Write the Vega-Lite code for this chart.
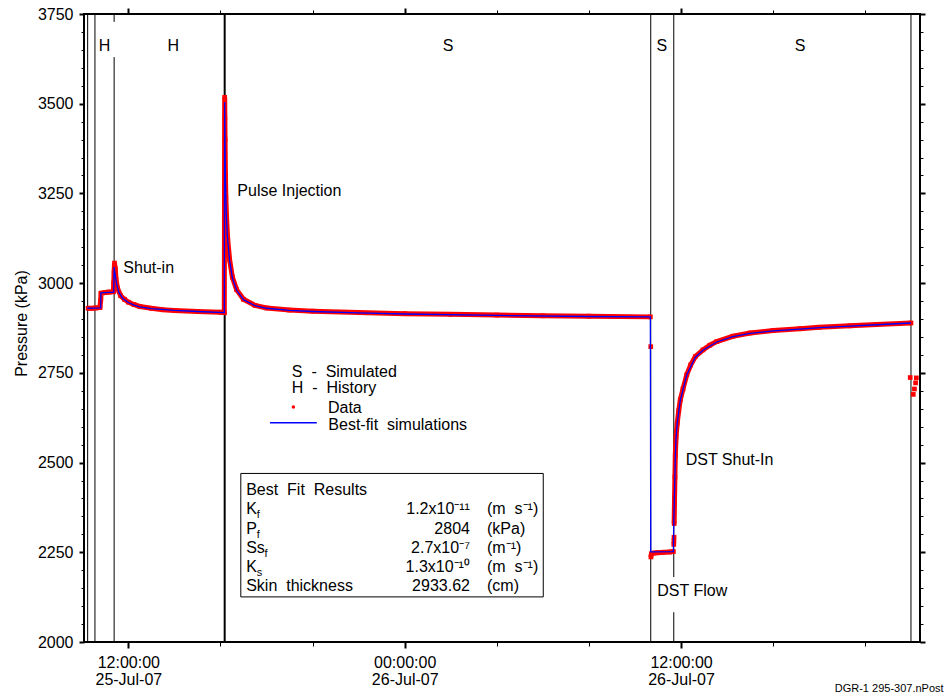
{
  "$schema": "https://vega.github.io/schema/vega-lite/v6.json",
  "width": 836,
  "height": 628,
  "autosize": {"type": "none"},
  "padding": {"left": 84, "top": 14, "right": 26, "bottom": 54},
  "config": {
    "font": "Liberation Sans",
    "view": {"stroke": "#000000", "strokeWidth": 2},
    "axis": {
      "grid": false,
      "domain": false,
      "tickColor": "#000000",
      "labelColor": "#000000",
      "labelFont": "Liberation Sans",
      "labelFontSize": 16,
      "titleFont": "Liberation Sans",
      "titleFontSize": 16,
      "titleFontWeight": "normal",
      "titleColor": "#000000"
    },
    "text": {"font": "Liberation Sans", "fontSize": 16, "color": "#000000"}
  },
  "datasets": {
    "pressure": [
      {"t": "2007-07-25T10:15:00Z", "p": 2930, "part": "a"},
      {"t": "2007-07-25T10:25:00Z", "p": 2930, "part": "a"},
      {"t": "2007-07-25T10:35:00Z", "p": 2931, "part": "a"},
      {"t": "2007-07-25T10:46:00Z", "p": 2932, "part": "a"},
      {"t": "2007-07-25T10:48:00Z", "p": 2952, "part": "a"},
      {"t": "2007-07-25T10:49:00Z", "p": 2972, "part": "a"},
      {"t": "2007-07-25T11:00:00Z", "p": 2974, "part": "a"},
      {"t": "2007-07-25T11:10:00Z", "p": 2975, "part": "a"},
      {"t": "2007-07-25T11:21:00Z", "p": 2976, "part": "a"},
      {"t": "2007-07-25T11:22:00Z", "p": 3000, "part": "a"},
      {"t": "2007-07-25T11:23:00Z", "p": 3030, "part": "a"},
      {"t": "2007-07-25T11:24:00Z", "p": 3056, "part": "a"},
      {"t": "2007-07-25T11:26:00Z", "p": 3040, "part": "a"},
      {"t": "2007-07-25T11:28:00Z", "p": 3010, "part": "a"},
      {"t": "2007-07-25T11:32:00Z", "p": 2985, "part": "a"},
      {"t": "2007-07-25T11:40:00Z", "p": 2965, "part": "a"},
      {"t": "2007-07-25T11:50:00Z", "p": 2955, "part": "a"},
      {"t": "2007-07-25T12:00:00Z", "p": 2947, "part": "a"},
      {"t": "2007-07-25T12:15:00Z", "p": 2940, "part": "a"},
      {"t": "2007-07-25T12:30:00Z", "p": 2935, "part": "a"},
      {"t": "2007-07-25T13:00:00Z", "p": 2930, "part": "a"},
      {"t": "2007-07-25T13:30:00Z", "p": 2926, "part": "a"},
      {"t": "2007-07-25T14:00:00Z", "p": 2924, "part": "a"},
      {"t": "2007-07-25T15:00:00Z", "p": 2921, "part": "a"},
      {"t": "2007-07-25T16:00:00Z", "p": 2919, "part": "a"},
      {"t": "2007-07-25T16:10:00Z", "p": 2918, "part": "a"},
      {"t": "2007-07-25T16:10:30Z", "p": 3200, "part": "a"},
      {"t": "2007-07-25T16:11:00Z", "p": 3518, "part": "a"},
      {"t": "2007-07-25T16:11:30Z", "p": 3460, "part": "a"},
      {"t": "2007-07-25T16:12:00Z", "p": 3400, "part": "a"},
      {"t": "2007-07-25T16:13:00Z", "p": 3300, "part": "a"},
      {"t": "2007-07-25T16:14:00Z", "p": 3240, "part": "a"},
      {"t": "2007-07-25T16:16:00Z", "p": 3180, "part": "a"},
      {"t": "2007-07-25T16:19:00Z", "p": 3120, "part": "a"},
      {"t": "2007-07-25T16:24:00Z", "p": 3065, "part": "a"},
      {"t": "2007-07-25T16:31:00Z", "p": 3017, "part": "a"},
      {"t": "2007-07-25T16:42:00Z", "p": 2982, "part": "a"},
      {"t": "2007-07-25T17:00:00Z", "p": 2955, "part": "a"},
      {"t": "2007-07-25T17:30:00Z", "p": 2938, "part": "a"},
      {"t": "2007-07-25T18:00:00Z", "p": 2931, "part": "a"},
      {"t": "2007-07-25T19:00:00Z", "p": 2925, "part": "a"},
      {"t": "2007-07-25T20:00:00Z", "p": 2922, "part": "a"},
      {"t": "2007-07-25T22:00:00Z", "p": 2918, "part": "a"},
      {"t": "2007-07-26T00:00:00Z", "p": 2915, "part": "a"},
      {"t": "2007-07-26T02:00:00Z", "p": 2913, "part": "a"},
      {"t": "2007-07-26T04:00:00Z", "p": 2911, "part": "a"},
      {"t": "2007-07-26T06:00:00Z", "p": 2909, "part": "a"},
      {"t": "2007-07-26T08:00:00Z", "p": 2908, "part": "a"},
      {"t": "2007-07-26T10:40:00Z", "p": 2906, "part": "a"},
      {"t": "2007-07-26T10:41:00Z", "p": 2823, "part": "single"},
      {"t": "2007-07-26T10:41:30Z", "p": 2237, "part": "b"},
      {"t": "2007-07-26T10:43:00Z", "p": 2246, "part": "b"},
      {"t": "2007-07-26T10:50:00Z", "p": 2248, "part": "b"},
      {"t": "2007-07-26T11:00:00Z", "p": 2249, "part": "b"},
      {"t": "2007-07-26T11:15:00Z", "p": 2250, "part": "b"},
      {"t": "2007-07-26T11:30:00Z", "p": 2251, "part": "b"},
      {"t": "2007-07-26T11:40:00Z", "p": 2252, "part": "b"},
      {"t": "2007-07-26T11:41:00Z", "p": 2272, "part": "single"},
      {"t": "2007-07-26T11:41:20Z", "p": 2282, "part": "single"},
      {"t": "2007-07-26T11:41:40Z", "p": 2292, "part": "single"},
      {"t": "2007-07-26T11:42:00Z", "p": 2330, "part": "c"},
      {"t": "2007-07-26T11:43:00Z", "p": 2400, "part": "c"},
      {"t": "2007-07-26T11:44:00Z", "p": 2460, "part": "c"},
      {"t": "2007-07-26T11:45:00Z", "p": 2520, "part": "c"},
      {"t": "2007-07-26T11:47:00Z", "p": 2572, "part": "c"},
      {"t": "2007-07-26T11:50:00Z", "p": 2610, "part": "c"},
      {"t": "2007-07-26T11:54:00Z", "p": 2645, "part": "c"},
      {"t": "2007-07-26T11:58:00Z", "p": 2675, "part": "c"},
      {"t": "2007-07-26T12:05:00Z", "p": 2705, "part": "c"},
      {"t": "2007-07-26T12:15:00Z", "p": 2745, "part": "c"},
      {"t": "2007-07-26T12:25:00Z", "p": 2772, "part": "c"},
      {"t": "2007-07-26T12:37:00Z", "p": 2795, "part": "c"},
      {"t": "2007-07-26T12:57:00Z", "p": 2814, "part": "c"},
      {"t": "2007-07-26T13:15:00Z", "p": 2827, "part": "c"},
      {"t": "2007-07-26T13:33:00Z", "p": 2837, "part": "c"},
      {"t": "2007-07-26T14:15:00Z", "p": 2852, "part": "c"},
      {"t": "2007-07-26T15:00:00Z", "p": 2861, "part": "c"},
      {"t": "2007-07-26T16:00:00Z", "p": 2868, "part": "c"},
      {"t": "2007-07-26T17:10:00Z", "p": 2873, "part": "c"},
      {"t": "2007-07-26T18:00:00Z", "p": 2877, "part": "c"},
      {"t": "2007-07-26T19:20:00Z", "p": 2881, "part": "c"},
      {"t": "2007-07-26T20:30:00Z", "p": 2885, "part": "c"},
      {"t": "2007-07-26T21:59:00Z", "p": 2889, "part": "c"},
      {"t": "2007-07-26T21:57:00Z", "p": 2737, "part": "single"},
      {"t": "2007-07-26T22:13:00Z", "p": 2736, "part": "single"},
      {"t": "2007-07-26T22:11:00Z", "p": 2722, "part": "single"},
      {"t": "2007-07-26T22:08:00Z", "p": 2705, "part": "single"},
      {"t": "2007-07-26T22:05:00Z", "p": 2690, "part": "single"}
    ],
    "simulation": [
      {"t": "2007-07-25T10:13:00Z", "p": 2930},
      {"t": "2007-07-25T10:48:00Z", "p": 2931},
      {"t": "2007-07-25T10:48:30Z", "p": 2973},
      {"t": "2007-07-25T11:22:00Z", "p": 2975},
      {"t": "2007-07-25T11:23:00Z", "p": 3045},
      {"t": "2007-07-25T11:26:00Z", "p": 3020},
      {"t": "2007-07-25T11:30:00Z", "p": 2995},
      {"t": "2007-07-25T11:35:00Z", "p": 2975},
      {"t": "2007-07-25T11:45:00Z", "p": 2958},
      {"t": "2007-07-25T12:00:00Z", "p": 2946},
      {"t": "2007-07-25T12:15:00Z", "p": 2939},
      {"t": "2007-07-25T12:30:00Z", "p": 2934},
      {"t": "2007-07-25T13:00:00Z", "p": 2929},
      {"t": "2007-07-25T14:00:00Z", "p": 2924},
      {"t": "2007-07-25T15:00:00Z", "p": 2921},
      {"t": "2007-07-25T16:10:00Z", "p": 2918},
      {"t": "2007-07-25T16:11:00Z", "p": 3505},
      {"t": "2007-07-25T16:12:00Z", "p": 3380},
      {"t": "2007-07-25T16:13:00Z", "p": 3290},
      {"t": "2007-07-25T16:15:00Z", "p": 3200},
      {"t": "2007-07-25T16:18:00Z", "p": 3130},
      {"t": "2007-07-25T16:24:00Z", "p": 3062},
      {"t": "2007-07-25T16:31:00Z", "p": 3015},
      {"t": "2007-07-25T16:42:00Z", "p": 2980},
      {"t": "2007-07-25T17:00:00Z", "p": 2954},
      {"t": "2007-07-25T17:30:00Z", "p": 2937},
      {"t": "2007-07-25T18:00:00Z", "p": 2930},
      {"t": "2007-07-25T19:00:00Z", "p": 2924},
      {"t": "2007-07-25T20:00:00Z", "p": 2921},
      {"t": "2007-07-25T22:00:00Z", "p": 2917},
      {"t": "2007-07-26T00:00:00Z", "p": 2914},
      {"t": "2007-07-26T04:00:00Z", "p": 2910},
      {"t": "2007-07-26T08:00:00Z", "p": 2907},
      {"t": "2007-07-26T10:40:00Z", "p": 2906},
      {"t": "2007-07-26T10:41:00Z", "p": 2251},
      {"t": "2007-07-26T11:40:00Z", "p": 2252},
      {"t": "2007-07-26T11:41:00Z", "p": 2330},
      {"t": "2007-07-26T11:43:00Z", "p": 2420},
      {"t": "2007-07-26T11:45:00Z", "p": 2515},
      {"t": "2007-07-26T11:47:00Z", "p": 2570},
      {"t": "2007-07-26T11:50:00Z", "p": 2610},
      {"t": "2007-07-26T11:58:00Z", "p": 2673},
      {"t": "2007-07-26T12:15:00Z", "p": 2745},
      {"t": "2007-07-26T12:37:00Z", "p": 2793},
      {"t": "2007-07-26T12:57:00Z", "p": 2813},
      {"t": "2007-07-26T13:33:00Z", "p": 2836},
      {"t": "2007-07-26T14:15:00Z", "p": 2851},
      {"t": "2007-07-26T15:00:00Z", "p": 2860},
      {"t": "2007-07-26T16:00:00Z", "p": 2867},
      {"t": "2007-07-26T17:10:00Z", "p": 2872},
      {"t": "2007-07-26T18:00:00Z", "p": 2876},
      {"t": "2007-07-26T19:20:00Z", "p": 2880},
      {"t": "2007-07-26T20:30:00Z", "p": 2884},
      {"t": "2007-07-26T21:59:00Z", "p": 2889}
    ],
    "boundaries": [
      {"t": "2007-07-25T10:14:00Z", "p0": 2000, "p1": 3750, "kind": "period"},
      {"t": "2007-07-25T10:33:00Z", "p0": 2000, "p1": 3750, "kind": "period"},
      {"t": "2007-07-25T11:23:00Z", "p0": 3728, "p1": 3750, "kind": "period"},
      {"t": "2007-07-25T11:23:00Z", "p0": 2000, "p1": 3630, "kind": "period"},
      {"t": "2007-07-25T16:11:00Z", "p0": 2000, "p1": 3750, "kind": "pulse"},
      {"t": "2007-07-26T10:41:00Z", "p0": 2000, "p1": 3750, "kind": "period"},
      {"t": "2007-07-26T11:41:00Z", "p0": 2181, "p1": 3750, "kind": "period"},
      {"t": "2007-07-26T11:41:00Z", "p0": 2000, "p1": 2083, "kind": "period"},
      {"t": "2007-07-26T21:59:00Z", "p0": 2000, "p1": 3750, "kind": "period"}
    ],
    "phases": [
      {"t": "2007-07-25T10:58:00Z", "p": 3647, "text": "H"},
      {"t": "2007-07-25T13:57:00Z", "p": 3647, "text": "H"},
      {"t": "2007-07-26T01:53:00Z", "p": 3647, "text": "S"},
      {"t": "2007-07-26T11:10:00Z", "p": 3647, "text": "S"},
      {"t": "2007-07-26T17:10:00Z", "p": 3647, "text": "S"}
    ],
    "events": [
      {"t": "2007-07-25T11:47:00Z", "p": 3028, "text": "Shut-in"},
      {"t": "2007-07-25T16:44:00Z", "p": 3243, "text": "Pulse Injection"},
      {"t": "2007-07-26T12:12:00Z", "p": 2493, "text": "DST Shut-In"},
      {"t": "2007-07-26T10:58:00Z", "p": 2128, "text": "DST Flow"}
    ],
    "key_text": [
      {"t": "2007-07-25T19:06:00Z", "p": 2739, "text": "S\u00a0 -\u00a0 Simulated"},
      {"t": "2007-07-25T19:06:00Z", "p": 2693, "text": "H\u00a0 -\u00a0 History"},
      {"t": "2007-07-25T20:40:00Z", "p": 2638, "text": "Data"},
      {"t": "2007-07-25T20:41:00Z", "p": 2592, "text": "Best-fit\u00a0 simulations"}
    ],
    "key_dot": [
      {"t": "2007-07-25T19:10:00Z", "p": 2655}
    ],
    "key_line": [
      {"t": "2007-07-25T18:09:00Z", "p": 2611},
      {"t": "2007-07-25T20:11:00Z", "p": 2611}
    ],
    "fit_box": [
      {"t0": "2007-07-25T16:53:00Z", "t1": "2007-07-26T06:01:00Z", "p0": 2125.7, "p1": 2469.7}
    ],
    "fit_names": [
      {"t": "2007-07-25T17:07:00Z", "p": 2409, "text": "Best\u00a0 Fit\u00a0 Results"},
      {"t": "2007-07-25T17:07:00Z", "p": 2356, "text": "K"},
      {"t": "2007-07-25T17:07:00Z", "p": 2302, "text": "P"},
      {"t": "2007-07-25T17:07:00Z", "p": 2249, "text": "Ss"},
      {"t": "2007-07-25T17:07:00Z", "p": 2195, "text": "K"},
      {"t": "2007-07-25T17:07:00Z", "p": 2142, "text": "Skin\u00a0 thickness"}
    ],
    "fit_subscripts": [
      {"t": "2007-07-25T17:34:30Z", "p": 2356, "text": "f"},
      {"t": "2007-07-25T17:34:30Z", "p": 2302, "text": "f"},
      {"t": "2007-07-25T17:55:00Z", "p": 2249, "text": "f"},
      {"t": "2007-07-25T17:34:30Z", "p": 2195, "text": "s"}
    ],
    "fit_values": [
      {"t": "2007-07-26T02:50:00Z", "p": 2356, "text": "1.2x10\u207b\u00b9\u00b9"},
      {"t": "2007-07-26T02:50:00Z", "p": 2302, "text": "2804"},
      {"t": "2007-07-26T02:50:00Z", "p": 2249, "text": "2.7x10\u207b\u2077"},
      {"t": "2007-07-26T02:50:00Z", "p": 2195, "text": "1.3x10\u207b\u00b9\u2070"},
      {"t": "2007-07-26T02:50:00Z", "p": 2142, "text": "2933.62"}
    ],
    "fit_units": [
      {"t": "2007-07-26T03:34:30Z", "p": 2356, "text": "(m\u00a0 s\u207b\u00b9)"},
      {"t": "2007-07-26T03:34:30Z", "p": 2302, "text": "(kPa)"},
      {"t": "2007-07-26T03:34:30Z", "p": 2249, "text": "(m\u207b\u00b9)"},
      {"t": "2007-07-26T03:34:30Z", "p": 2195, "text": "(m\u00a0 s\u207b\u00b9)"},
      {"t": "2007-07-26T03:34:30Z", "p": 2142, "text": "(cm)"}
    ],
    "source": [
      {"t": "2007-07-26T23:24:00Z", "p": 1862, "text": "DGR-1 295-307.nPost"}
    ]
  },
  "layer": [
    {
      "data": {"name": "boundaries"},
      "transform": [{"filter": "datum.kind == 'period'"}],
      "mark": {"type": "rule", "color": "#000000", "strokeWidth": 1},
      "encoding": {
        "x": {
          "field": "t",
          "type": "temporal",
          "scale": {
            "type": "utc",
            "domain": [
              {"year": 2007, "month": 7, "date": 25, "hours": 10, "minutes": 4, "seconds": 30, "utc": true},
              {"year": 2007, "month": 7, "date": 26, "hours": 22, "minutes": 22, "seconds": 30, "utc": true}
            ]
          },
          "axis": {
            "orient": "bottom",
            "title": null,
            "values": [
              {"year": 2007, "month": 7, "date": 25, "hours": 12, "utc": true},
              {"year": 2007, "month": 7, "date": 25, "hours": 16, "utc": true},
              {"year": 2007, "month": 7, "date": 25, "hours": 20, "utc": true},
              {"year": 2007, "month": 7, "date": 26, "hours": 0, "utc": true},
              {"year": 2007, "month": 7, "date": 26, "hours": 4, "utc": true},
              {"year": 2007, "month": 7, "date": 26, "hours": 8, "utc": true},
              {"year": 2007, "month": 7, "date": 26, "hours": 12, "utc": true},
              {"year": 2007, "month": 7, "date": 26, "hours": 16, "utc": true},
              {"year": 2007, "month": 7, "date": 26, "hours": 20, "utc": true}
            ],
            "labelExpr": "utchours(datum.value) % 12 == 0 ? [utcFormat(datum.value, '%H:%M:%S'), utcFormat(datum.value, '%d-%b-%y')] : ''",
            "labelLineHeight": 17,
            "labelPadding": 6,
            "labelFlush": false,
            "labelOverlap": false,
            "labelBound": false,
            "tickSize": {"condition": {"test": "utchours(datum.value) % 12 == 0", "value": 6}, "value": 4},
            "tickWidth": {"condition": {"test": "utchours(datum.value) % 12 == 0", "value": 2}, "value": 1}
          }
        },
        "y": {
          "field": "p0",
          "type": "quantitative",
          "scale": {"domain": [2000, 3750], "nice": false, "zero": false},
          "axis": {
            "orient": "left",
            "title": "Pressure (kPa)",
            "titlePadding": 8,
            "titleY": 309,
            "values": [2000, 2050, 2100, 2150, 2200, 2250, 2300, 2350, 2400, 2450, 2500, 2550, 2600, 2650, 2700, 2750, 2800, 2850, 2900, 2950, 3000, 3050, 3100, 3150, 3200, 3250, 3300, 3350, 3400, 3450, 3500, 3550, 3600, 3650, 3700, 3750],
            "format": "d",
            "labelExpr": "datum.value % 250 == 0 ? datum.label : ''",
            "labelPadding": 6,
            "labelOverlap": false,
            "labelFlush": false,
            "tickSize": {"condition": {"test": "datum.value % 250 == 0", "value": 5}, "value": 3},
            "tickWidth": {"condition": {"test": "datum.value % 250 == 0", "value": 2}, "value": 1}
          }
        },
        "y2": {"field": "p1"}
      }
    },
    {
      "data": {"name": "boundaries"},
      "transform": [{"filter": "datum.kind == 'pulse'"}],
      "mark": {"type": "rule", "color": "#000000", "strokeWidth": 2},
      "encoding": {
        "x": {
          "field": "t",
          "type": "temporal",
          "axis": {
            "orient": "top",
            "title": null,
            "labels": false,
            "values": [
              {"year": 2007, "month": 7, "date": 25, "hours": 12, "utc": true},
              {"year": 2007, "month": 7, "date": 25, "hours": 16, "utc": true},
              {"year": 2007, "month": 7, "date": 25, "hours": 20, "utc": true},
              {"year": 2007, "month": 7, "date": 26, "hours": 0, "utc": true},
              {"year": 2007, "month": 7, "date": 26, "hours": 4, "utc": true},
              {"year": 2007, "month": 7, "date": 26, "hours": 8, "utc": true},
              {"year": 2007, "month": 7, "date": 26, "hours": 12, "utc": true},
              {"year": 2007, "month": 7, "date": 26, "hours": 16, "utc": true},
              {"year": 2007, "month": 7, "date": 26, "hours": 20, "utc": true}
            ],
            "tickSize": {"condition": {"test": "utchours(datum.value) % 12 == 0", "value": 6}, "value": 4},
            "tickWidth": {"condition": {"test": "utchours(datum.value) % 12 == 0", "value": 2}, "value": 1}
          }
        },
        "y": {
          "field": "p0",
          "type": "quantitative",
          "axis": {
            "orient": "right",
            "title": null,
            "labels": false,
            "values": [2000, 2050, 2100, 2150, 2200, 2250, 2300, 2350, 2400, 2450, 2500, 2550, 2600, 2650, 2700, 2750, 2800, 2850, 2900, 2950, 3000, 3050, 3100, 3150, 3200, 3250, 3300, 3350, 3400, 3450, 3500, 3550, 3600, 3650, 3700, 3750],
            "tickSize": {"condition": {"test": "datum.value % 250 == 0", "value": 5}, "value": 3},
            "tickWidth": {"condition": {"test": "datum.value % 250 == 0", "value": 2}, "value": 1}
          }
        },
        "y2": {"field": "p1"}
      }
    },
    {
      "data": {"name": "pressure"},
      "transform": [{"filter": "datum.part != 'single'"}],
      "mark": {"type": "line", "color": "#ff0000", "strokeWidth": 5, "strokeJoin": "miter"},
      "encoding": {
        "x": {"field": "t", "type": "temporal", "axis": null},
        "y": {"field": "p", "type": "quantitative", "axis": null},
        "detail": {"field": "part"}
      }
    },
    {
      "data": {"name": "pressure"},
      "mark": {"type": "point", "shape": "square", "filled": true, "color": "#ff0000", "size": 22, "opacity": 1},
      "encoding": {
        "x": {"field": "t", "type": "temporal", "axis": null},
        "y": {"field": "p", "type": "quantitative", "axis": null}
      }
    },
    {
      "data": {"name": "simulation"},
      "mark": {"type": "line", "color": "#0000ff", "strokeWidth": 1.3},
      "encoding": {
        "x": {"field": "t", "type": "temporal", "axis": null},
        "y": {"field": "p", "type": "quantitative", "axis": null}
      }
    },
    {
      "data": {"name": "phases"},
      "mark": {"type": "text", "align": "center", "baseline": "alphabetic"},
      "encoding": {
        "x": {"field": "t", "type": "temporal", "axis": null},
        "y": {"field": "p", "type": "quantitative", "axis": null},
        "text": {"field": "text"}
      }
    },
    {
      "data": {"name": "events"},
      "mark": {"type": "text", "align": "left", "baseline": "alphabetic"},
      "encoding": {
        "x": {"field": "t", "type": "temporal", "axis": null},
        "y": {"field": "p", "type": "quantitative", "axis": null},
        "text": {"field": "text"}
      }
    },
    {
      "data": {"name": "key_text"},
      "mark": {"type": "text", "align": "left", "baseline": "alphabetic"},
      "encoding": {
        "x": {"field": "t", "type": "temporal", "axis": null},
        "y": {"field": "p", "type": "quantitative", "axis": null},
        "text": {"field": "text"}
      }
    },
    {
      "data": {"name": "key_dot"},
      "mark": {"type": "point", "shape": "circle", "filled": true, "color": "#ff0000", "size": 12, "opacity": 1},
      "encoding": {
        "x": {"field": "t", "type": "temporal", "axis": null},
        "y": {"field": "p", "type": "quantitative", "axis": null}
      }
    },
    {
      "data": {"name": "key_line"},
      "mark": {"type": "line", "color": "#0000ff", "strokeWidth": 1.3},
      "encoding": {
        "x": {"field": "t", "type": "temporal", "axis": null},
        "y": {"field": "p", "type": "quantitative", "axis": null}
      }
    },
    {
      "data": {"name": "fit_box"},
      "mark": {"type": "rect", "fill": "#ffffff", "stroke": "#000000", "strokeWidth": 1},
      "encoding": {
        "x": {"field": "t0", "type": "temporal", "axis": null},
        "x2": {"field": "t1"},
        "y": {"field": "p0", "type": "quantitative", "axis": null},
        "y2": {"field": "p1"}
      }
    },
    {
      "data": {"name": "fit_names"},
      "mark": {"type": "text", "align": "left", "baseline": "alphabetic"},
      "encoding": {
        "x": {"field": "t", "type": "temporal", "axis": null},
        "y": {"field": "p", "type": "quantitative", "axis": null},
        "text": {"field": "text"}
      }
    },
    {
      "data": {"name": "fit_subscripts"},
      "mark": {"type": "text", "align": "left", "baseline": "alphabetic", "fontSize": 11, "dy": 4},
      "encoding": {
        "x": {"field": "t", "type": "temporal", "axis": null},
        "y": {"field": "p", "type": "quantitative", "axis": null},
        "text": {"field": "text"}
      }
    },
    {
      "data": {"name": "fit_values"},
      "mark": {"type": "text", "align": "right", "baseline": "alphabetic"},
      "encoding": {
        "x": {"field": "t", "type": "temporal", "axis": null},
        "y": {"field": "p", "type": "quantitative", "axis": null},
        "text": {"field": "text"}
      }
    },
    {
      "data": {"name": "fit_units"},
      "mark": {"type": "text", "align": "left", "baseline": "alphabetic"},
      "encoding": {
        "x": {"field": "t", "type": "temporal", "axis": null},
        "y": {"field": "p", "type": "quantitative", "axis": null},
        "text": {"field": "text"}
      }
    },
    {
      "data": {"name": "source"},
      "mark": {"type": "text", "align": "right", "baseline": "alphabetic", "fontSize": 11},
      "encoding": {
        "x": {"field": "t", "type": "temporal", "axis": null},
        "y": {"field": "p", "type": "quantitative", "axis": null},
        "text": {"field": "text"}
      }
    }
  ],
  "resolve": {"axis": {"x": "independent", "y": "independent"}}
}
